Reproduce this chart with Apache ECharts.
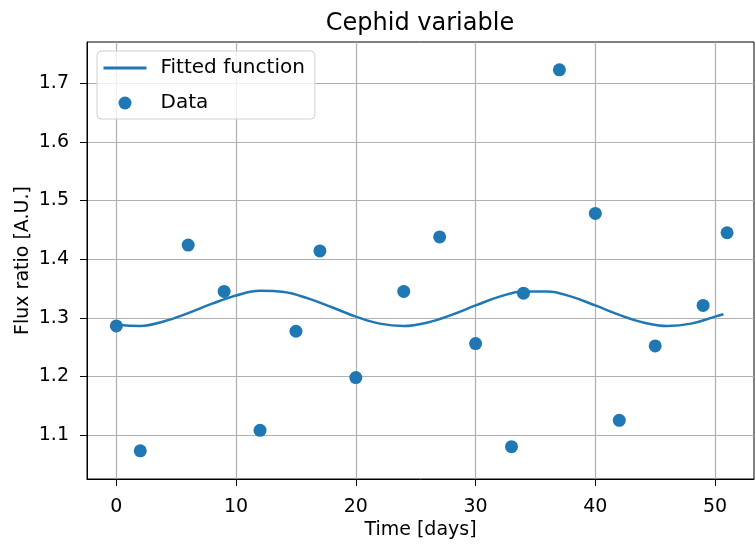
<!DOCTYPE html>
<html>
<head>
<meta charset="utf-8">
<script src="https://cdn.jsdelivr.net/npm/echarts@6/dist/echarts.min.js"></script>
<style>
  html, body { margin: 0; padding: 0; background: #fff; }
  #chart { width: 755px; height: 549px; }
</style>
</head>
<body>
<div id="chart"></div>
<script>
// Observed data
const times = [0, 2, 6, 9, 12, 15, 17, 20, 24, 27, 30, 33, 34, 37, 40, 42, 45, 49, 51];
const flux = [1.286, 1.073, 1.424, 1.345, 1.108, 1.277, 1.414, 1.198, 1.345, 1.438, 1.256, 1.080, 1.342, 1.723, 1.478, 1.125, 1.252, 1.321, 1.445];

// Fitted curve
const fitT = [0, 2, 4, 6, 8, 10, 12, 14, 16, 18, 20, 22, 24, 26, 28, 30, 32, 34, 36, 38, 40, 42, 44, 46, 48, 50, 50.7];
const fitY = [1.288, 1.286, 1.294, 1.308, 1.324, 1.338, 1.346, 1.344, 1.333, 1.318, 1.302, 1.290, 1.286, 1.292, 1.305, 1.321, 1.336, 1.345, 1.345, 1.336, 1.321, 1.305, 1.292, 1.286, 1.290, 1.302, 1.306];

// Tick labels
const xTicks = [0, 10, 20, 30, 40, 50];
const yTicks = [1.1, 1.2, 1.3, 1.4, 1.5, 1.6, 1.7];

const FONT = 'DejaVu Sans';
const BLUE = '#1f77b4';

const chart = echarts.init(document.getElementById('chart'), null, { renderer: 'canvas' });

const option = {
  animation: false,
  backgroundColor: '#ffffff',
  title: {
    text: 'Cephid variable',
    left: 415,
    top: 7,
    textAlign: 'center',
    textStyle: { fontFamily: FONT, fontSize: 24, fontWeight: 'normal', color: '#000' }
  },
  legend: {
    left: 97,
    top: 51,
    orient: 'vertical',
    itemWidth: 43,
    itemHeight: 13,
    itemGap: 15,
    padding: [7, 10, 6, 5],
    backgroundColor: 'rgba(255,255,255,0.8)',
    borderColor: '#d0d0d0',
    borderWidth: 1,
    borderRadius: 4,
    textStyle: { fontFamily: FONT, fontSize: 20, color: '#000', padding: [0, 0, 0, 9] },
    data: [
      { name: 'Fitted function', itemStyle: { opacity: 0 }, lineStyle: { width: 3 } },
      { name: 'Data', icon: 'circle' }
    ]
  },
  grid: {
    left: 87,
    right: 1,
    top: 42,
    bottom: 70,
    show: true,
    borderColor: '#000',
    borderWidth: 1,
    backgroundColor: 'transparent'
  },
  xAxis: {
    type: 'value',
    min: -2.45,
    max: 53.25,
    name: 'Time [days]',
    nameLocation: 'middle',
    nameGap: 42,
    nameMoveOverlap: false,
    nameTextStyle: { fontFamily: FONT, fontSize: 19, color: '#000' },
    axisLine: { show: true, onZero: false, lineStyle: { color: '#000', width: 1 } },
    axisTick: { show: true, customValues: xTicks, length: 7, lineStyle: { color: '#000' } },
    axisLabel: {
      customValues: xTicks, margin: 19,
      fontFamily: FONT, fontSize: 19, color: '#000'
    },
    splitLine: { show: true, customValues: xTicks, lineStyle: { color: '#b0b0b0', width: 1.2 } }
  },
  yAxis: {
    type: 'value',
    min: 1.0249,
    max: 1.7705,
    name: 'Flux ratio [A.U.]',
    nameLocation: 'middle',
    nameGap: 54,
    nameMoveOverlap: false,
    nameTextStyle: { fontFamily: FONT, fontSize: 19, color: '#000' },
    axisLine: { show: true, onZero: false, lineStyle: { color: '#000', width: 1 } },
    axisTick: { show: true, customValues: yTicks, length: 7, lineStyle: { color: '#000' } },
    axisLabel: {
      customValues: yTicks, margin: 18,
      fontFamily: FONT, fontSize: 19, color: '#000',
      formatter: v => v.toFixed(1)
    },
    splitLine: { show: true, customValues: yTicks, lineStyle: { color: '#b0b0b0', width: 1.2 } }
  },
  series: [
    {
      name: 'Fitted function',
      type: 'line',
      data: fitT.map((t, i) => [t, fitY[i]]),
      smooth: 0.4,
      showSymbol: false,
      symbol: 'none',
      lineStyle: { color: BLUE, width: 2.5 },
      itemStyle: { color: BLUE },
      z: 3
    },
    {
      name: 'Data',
      type: 'scatter',
      data: times.map((t, i) => [t, flux[i]]),
      symbol: 'circle',
      symbolSize: 13,
      itemStyle: { color: BLUE, opacity: 1 },
      z: 4
    }
  ]
};

chart.setOption(option);
</script>
</body>
</html>
